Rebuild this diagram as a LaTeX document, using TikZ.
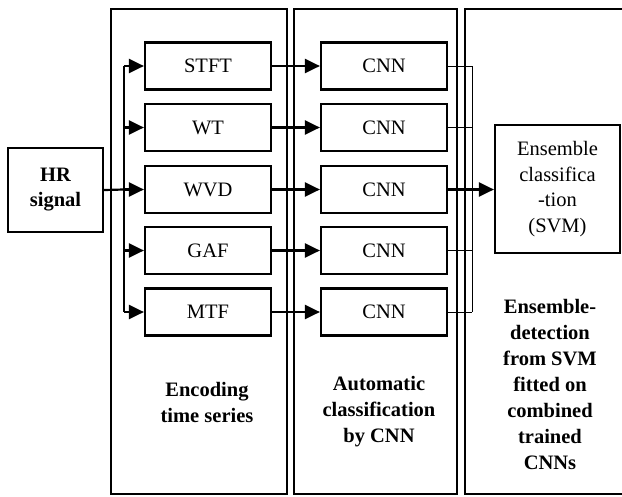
\documentclass[tikz,border=0pt]{standalone}
\usepackage{fontspec}
\setmainfont{Liberation Serif}
\usetikzlibrary{arrows.meta,calc}
\begin{document}
\begin{tikzpicture}[x=1pt,y=-1pt,
  panel/.style={draw,line width=2.2pt},
  box/.style={draw,line width=2.2pt,minimum width=126pt,minimum height=47pt,inner sep=0pt,font=\fontsize{20.5}{25}\selectfont},
  arr/.style={line width=2.2pt,-{Triangle[length=15pt,width=14pt]}},
  thinline/.style={line width=1pt},
  ttl/.style={font=\fontsize{20.5}{26}\selectfont\bfseries,align=center,inner sep=0pt}
]
\useasboundingbox (0,0) rectangle (622,496);
% panels
\draw[panel] (111,9) rectangle (287,494);
\draw[panel] (294,9) rectangle (457,494);
\draw[panel] (465,9) rectangle (630,494);
% HR
\node[draw,line width=2.2pt,minimum width=95pt,minimum height=84pt,inner sep=0pt,
  font=\fontsize{20.5}{25}\selectfont\bfseries,align=center] (hr) at (55.5,190) {HR\\signal};
% encoders
\node[box] (e1) at (208,66) {STFT};
\node[box] (e2) at (208,127.5) {WT};
\node[box] (e3) at (208,189.5) {WVD};
\node[box] (e4) at (208,250.5) {GAF};
\node[box] (e5) at (208,312) {MTF};
% CNNs
\node[box] (c1) at (384,66) {CNN};
\node[box] (c2) at (384,127.5) {CNN};
\node[box] (c3) at (384,189.5) {CNN};
\node[box] (c4) at (384,250.5) {CNN};
\node[box] (c5) at (384,312) {CNN};
% Ensemble
\node[draw,line width=2.2pt,minimum width=125pt,minimum height=128pt,inner sep=0pt,
  font=\fontsize{20.5}{25.5}\selectfont,align=center] (ens) at (557.5,189) {Ensemble\\classifica\\-tion\\(SVM)};
% titles
\node[ttl] (t1) at (207,402) {Encoding\\time series};
\node[ttl] (t2) at (379,412) {Automatic\\classification\\by CNN};
\node[ttl] (t3) at (550,384) {Ensemble-\\detection\\from SVM\\fitted on\\combined\\trained\\CNNs};
% branch
\coordinate (spine) at (124,0);
\coordinate (collect) at (472,0);
\draw[line width=2.2pt] (e1.west -| spine) -- (e5.west -| spine);
\draw[line width=2.2pt] (hr.east) -- (e3.west -| spine);
\foreach \i in {1,...,5}{
  \draw[arr] (e\i.west -| spine) -- (e\i.west);
  \draw[arr] (e\i.east) -- (c\i.west);
  \draw[thinline] (c\i.east) -- (c\i.east -| collect);
}
\draw[thinline] (c1.east -| collect) -- (c5.east -| collect);
\draw[arr] (c3.east) -- (ens.west |- c3.east);
\end{tikzpicture}
\end{document}
